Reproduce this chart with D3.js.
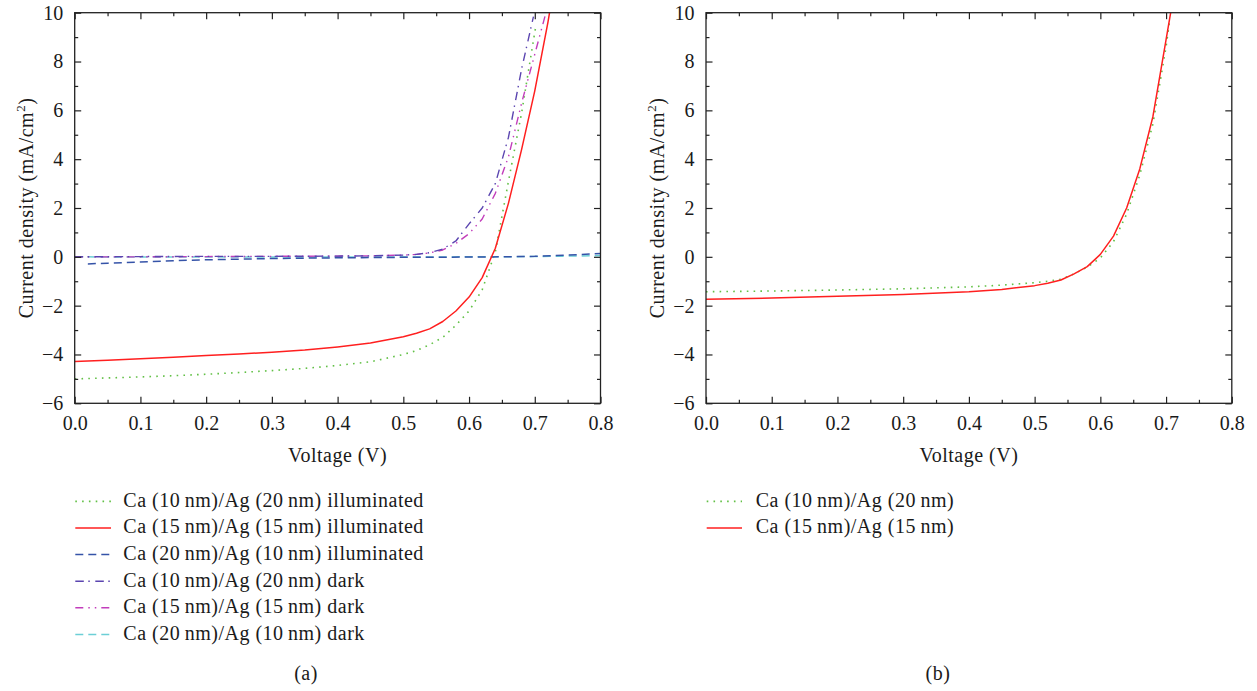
<!DOCTYPE html>
<html>
<head>
<meta charset="utf-8">
<script src="https://cdn.jsdelivr.net/npm/d3@7"></script>
<style>
  html, body { margin: 0; padding: 0; background: #fff; }
  svg { display: block; }
  text { font-family: "Liberation Serif", "DejaVu Serif", serif; fill: #1a1a1a; }
  .label { font-size: 20px; letter-spacing: 0.5px; }
</style>
</head>
<body>
<svg id="chart" width="1257" height="691"></svg>
<script>
// ---- Panel (a): J–V curves, illuminated and dark ----
const aGreenV = [0, 0.05, 0.1, 0.15, 0.2, 0.25, 0.3, 0.35, 0.4, 0.45, 0.5, 0.52, 0.54, 0.56, 0.58, 0.6, 0.62, 0.64, 0.66, 0.68, 0.7, 0.702];
const aGreenJ = [-5.0, -4.96, -4.92, -4.87, -4.81, -4.74, -4.66, -4.57, -4.45, -4.3, -4.0, -3.84, -3.6, -3.3, -2.8, -2.22, -1.35, 0.2, 3.1, 5.9, 9.2, 9.5];

const aRedV = [0, 0.05, 0.1, 0.15, 0.2, 0.25, 0.3, 0.35, 0.4, 0.45, 0.5, 0.52, 0.54, 0.56, 0.58, 0.6, 0.62, 0.64, 0.66, 0.68, 0.7, 0.72, 0.7225];
const aRedJ = [-4.29, -4.24, -4.18, -4.11, -4.04, -3.98, -3.91, -3.82, -3.69, -3.53, -3.27, -3.13, -2.95, -2.65, -2.22, -1.65, -0.85, 0.35, 2.2, 4.4, 6.8, 9.6, 10.0];

const aBlueV = [0.02, 0.05, 0.1, 0.15, 0.2, 0.3, 0.4, 0.5, 0.6, 0.65, 0.7, 0.75, 0.8];
const aBlueJ = [-0.29, -0.26, -0.21, -0.16, -0.12, -0.07, -0.04, -0.02, -0.01, 0.0, 0.02, 0.07, 0.14];

const aPurpleV = [0, 0.1, 0.2, 0.3, 0.4, 0.45, 0.5, 0.52, 0.54, 0.56, 0.58, 0.6, 0.62, 0.64, 0.66, 0.68, 0.698];
const aPurpleJ = [0.0, 0.01, 0.02, 0.02, 0.03, 0.04, 0.07, 0.1, 0.17, 0.32, 0.65, 1.35, 2.0, 3.0, 4.9, 7.7, 9.84];

const aMagentaV = [0, 0.1, 0.2, 0.3, 0.4, 0.45, 0.5, 0.52, 0.54, 0.56, 0.58, 0.6, 0.62, 0.64, 0.66, 0.68, 0.7, 0.716];
const aMagentaJ = [0.0, 0.0, 0.01, 0.02, 0.03, 0.04, 0.07, 0.1, 0.16, 0.28, 0.55, 0.95, 1.55, 2.6, 4.1, 6.3, 8.3, 9.9];

const aCyanV = [0, 0.1, 0.2, 0.3, 0.4, 0.5, 0.6, 0.7, 0.8];
const aCyanJ = [0.0, -0.01, -0.01, -0.01, -0.01, -0.01, 0.0, 0.01, 0.05];

// ---- Panel (b): illuminated curves ----
const bGreenV = [0, 0.1, 0.2, 0.3, 0.4, 0.45, 0.5, 0.52, 0.54, 0.56, 0.58, 0.6, 0.62, 0.64, 0.66, 0.68, 0.7, 0.705];
const bGreenJ = [-1.43, -1.4, -1.36, -1.31, -1.23, -1.16, -1.06, -1.0, -0.92, -0.7, -0.42, -0.05, 0.62, 1.75, 3.35, 5.45, 8.6, 9.6];

const bRedV = [0, 0.1, 0.2, 0.3, 0.4, 0.45, 0.5, 0.52, 0.54, 0.56, 0.58, 0.6, 0.62, 0.64, 0.66, 0.68, 0.7, 0.707];
const bRedJ = [-1.74, -1.69, -1.62, -1.54, -1.43, -1.34, -1.18, -1.08, -0.95, -0.7, -0.4, 0.1, 0.85, 2.0, 3.6, 5.75, 8.9, 10.0];

// ---- Labels and ticks ----
const aLegendLabels = [
  "Ca (10\u2009nm)/Ag (20\u2009nm) illuminated",
  "Ca (15\u2009nm)/Ag (15\u2009nm) illuminated",
  "Ca (20\u2009nm)/Ag (10\u2009nm) illuminated",
  "Ca (10\u2009nm)/Ag (20\u2009nm) dark",
  "Ca (15\u2009nm)/Ag (15\u2009nm) dark",
  "Ca (20\u2009nm)/Ag (10\u2009nm) dark"
];
const bLegendLabels = [
  "Ca (10\u2009nm)/Ag (20\u2009nm)",
  "Ca (15\u2009nm)/Ag (15\u2009nm)"
];
const panelTags = ["(a)", "(b)"];
const xMajorTicks = [0, 0.1, 0.2, 0.3, 0.4, 0.5, 0.6, 0.7, 0.8];
const xMinorTicks = [0.05, 0.15, 0.25, 0.35, 0.45, 0.55, 0.65, 0.75];
const yMajorTicks = [-6, -4, -2, 0, 2, 4, 6, 8, 10];
const yMinorTicks = [-5, -3, -1, 1, 3, 5, 7, 9];
const xTitle = "Voltage (V)";

// ---- Line styles ----
const styles = {
  green:   { stroke: "#62c046", width: 1.6, dash: "1.6,5.2" },
  red:     { stroke: "#ff1f1f", width: 1.5, dash: null },
  blue:    { stroke: "#3553a8", width: 1.5, dash: "8,5" },
  purple:  { stroke: "#5b45b0", width: 1.4, dash: "8.5,4.5,1.5,5.5" },
  magenta: { stroke: "#c23dbb", width: 1.4, dash: "8,5,1.5,5,1.5,5" },
  cyan:    { stroke: "#6ccfd6", width: 1.5, dash: "8,5" }
};

const zip = (xs, ys) => xs.map((v, i) => ({ v, j: ys[i] }));

const panels = [
  {
    left: 74.7, right: 600.5, tagX: 306,
    series: [
      { data: zip(aGreenV, aGreenJ), style: styles.green },
      { data: zip(aCyanV, aCyanJ), style: styles.cyan },
      { data: zip(aBlueV, aBlueJ), style: styles.blue },
      { data: zip(aMagentaV, aMagentaJ), style: styles.magenta },
      { data: zip(aPurpleV, aPurpleJ), style: styles.purple },
      { data: zip(aRedV, aRedJ), style: styles.red }
    ],
    legend: {
      x1: 75.3, x2: 111, tx: 123.3,
      items: aLegendLabels.map((t, i) => ({ text: t, style: [styles.green, styles.red, styles.blue, styles.purple, styles.magenta, styles.cyan][i] }))
    }
  },
  {
    left: 706, right: 1231.8, tagX: 938,
    series: [
      { data: zip(bGreenV, bGreenJ), style: styles.green },
      { data: zip(bRedV, bRedJ), style: styles.red }
    ],
    legend: {
      x1: 706.7, x2: 742, tx: 755.7,
      items: bLegendLabels.map((t, i) => ({ text: t, style: [styles.green, styles.red][i] }))
    }
  }
];

const plotTop = 12.7, plotBottom = 403.3;
const svg = d3.select("#chart");
const fmtX = d3.format(".1f");
const fmtY = d3.format("d");

panels.forEach((p, pi) => {
  const x = d3.scaleLinear().domain([0, 0.8]).range([p.left, p.right]);
  const y = d3.scaleLinear().domain([-6, 10]).range([plotBottom, plotTop]);
  const g = svg.append("g");

  const clipId = "clip" + pi;
  svg.append("clipPath").attr("id", clipId)
    .append("rect").attr("x", p.left).attr("y", plotTop)
    .attr("width", p.right - p.left).attr("height", plotBottom - plotTop);

  // curves
  const line = d3.line().x(d => x(d.v)).y(d => y(d.j));
  const curves = g.append("g").attr("clip-path", `url(#${clipId})`);
  p.series.forEach(s => {
    curves.append("path")
      .datum(s.data)
      .attr("d", line)
      .attr("fill", "none")
      .attr("stroke", s.style.stroke)
      .attr("stroke-width", s.style.width)
      .attr("stroke-dasharray", s.style.dash)
      .attr("stroke-linejoin", "round");
  });

  // inward ticks on all four sides
  const tickColor = "#222";
  const addAxis = (axis, tx, ty) => {
    const a = g.append("g").attr("transform", `translate(${tx},${ty})`).call(axis);
    a.select(".domain").remove();
    a.selectAll(".tick line").attr("stroke", tickColor).attr("stroke-width", 1.2);
    return a;
  };
  const xb = addAxis(d3.axisBottom(x).tickValues(xMajorTicks).tickSize(-6.5).tickPadding(13).tickFormat(fmtX), 0, plotBottom);
  addAxis(d3.axisBottom(x).tickValues(xMinorTicks).tickSize(-3.5).tickFormat(""), 0, plotBottom);
  addAxis(d3.axisTop(x).tickValues(xMajorTicks).tickSize(-6.5).tickFormat(""), 0, plotTop);
  addAxis(d3.axisTop(x).tickValues(xMinorTicks).tickSize(-3.5).tickFormat(""), 0, plotTop);
  const yl = addAxis(d3.axisLeft(y).tickValues(yMajorTicks).tickSize(-6.5).tickPadding(11.5).tickFormat(fmtY), p.left, 0);
  addAxis(d3.axisLeft(y).tickValues(yMinorTicks).tickSize(-3.5).tickFormat(""), p.left, 0);
  addAxis(d3.axisRight(y).tickValues(yMajorTicks).tickSize(-6.5).tickFormat(""), p.right, 0);
  addAxis(d3.axisRight(y).tickValues(yMinorTicks).tickSize(-3.5).tickFormat(""), p.right, 0);

  [xb, yl].forEach(a => a.selectAll(".tick text")
    .attr("fill", "#1a1a1a")
    .style("font-family", '"Liberation Serif", "DejaVu Serif", serif')
    .style("font-size", "20px"));

  // frame
  g.append("rect")
    .attr("x", p.left).attr("y", plotTop)
    .attr("width", p.right - p.left).attr("height", plotBottom - plotTop)
    .attr("fill", "none").attr("stroke", tickColor).attr("stroke-width", 1.3);

  // axis titles
  g.append("text").attr("class", "label")
    .attr("x", (p.left + p.right) / 2).attr("y", 462)
    .attr("text-anchor", "middle")
    .text(xTitle);

  const yt = g.append("text").attr("class", "label")
    .attr("transform", `translate(${p.left - 42},${(plotTop + plotBottom) / 2}) rotate(-90)`)
    .attr("text-anchor", "middle");
  yt.append("tspan").text("Current density (mA/cm");
  yt.append("tspan").attr("dy", -8).style("font-size", "13px").text("2");
  yt.append("tspan").attr("dy", 8).text(")");

  // legend
  const lg = g.append("g");
  p.legend.items.forEach((it, i) => {
    const base = 506.7 + i * 26.6;
    lg.append("line")
      .attr("x1", p.legend.x1).attr("x2", p.legend.x2)
      .attr("y1", base - 5.3).attr("y2", base - 5.3)
      .attr("stroke", it.style.stroke)
      .attr("stroke-width", it.style.width)
      .attr("stroke-dasharray", it.style.dash);
    lg.append("text").attr("class", "label")
      .attr("x", p.legend.tx).attr("y", base)
      .text(it.text);
  });

  // panel tag
  g.append("text").attr("class", "label")
    .attr("x", p.tagX).attr("y", 680)
    .attr("text-anchor", "middle")
    .text(panelTags[pi]);
});
</script>
</body>
</html>
